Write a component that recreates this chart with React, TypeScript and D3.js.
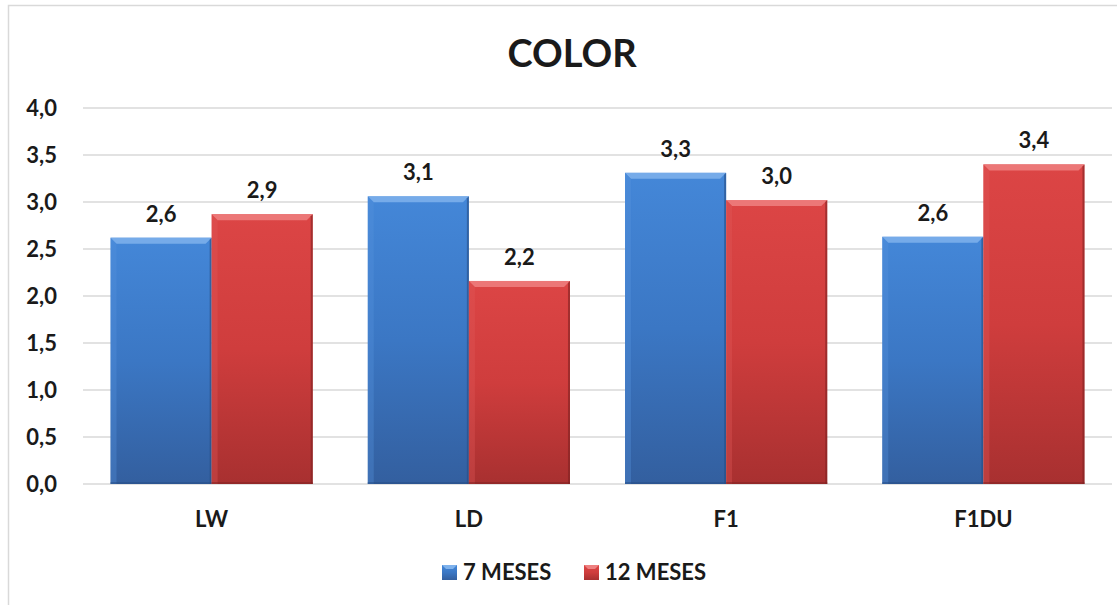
import * as d3 from "d3";
import { useEffect, useRef } from "react";

const categories = ["LW", "LD", "F1", "F1DU"];
const series = [
  { name: "7 MESES", key: "m7" },
  { name: "12 MESES", key: "m12" },
];
const values7 = [2.62, 3.06, 3.31, 2.63];
const values12 = [2.87, 2.16, 3.02, 3.4];
const yTicks = [0, 0.5, 1, 1.5, 2, 2.5, 3, 3.5, 4];

const palette: Record<string, { top: string; mid: string; bot: string; bevel: string; side: string; dark: string }> = {
  m7: { top: "#4487d8", mid: "#3b77c4", bot: "#335f9f", bevel: "#7fb2ec", side: "#5592dc", dark: "#264c84" },
  m12: { top: "#dc4545", mid: "#cf3d3d", bot: "#a83030", bevel: "#ee8080", side: "#e05a5a", dark: "#7e2222" },
};

export default function App() {
  const svgRef = useRef<SVGSVGElement>(null);
  const width = 1117;
  const height = 605;
  const margin = { top: 108, right: 5, bottom: 121, left: 83 };

  useEffect(() => {
    const svg = d3.select(svgRef.current);
    svg.selectAll("*").remove();
    const font = "Lato, 'Open Sans', sans-serif";

    const defs = svg.append("defs");
    Object.entries(palette).forEach(([k, c]) => {
      const g = defs.append("linearGradient").attr("id", `g-${k}`).attr("x1", 0).attr("y1", 0).attr("x2", 0).attr("y2", 1);
      g.append("stop").attr("offset", "0%").attr("stop-color", c.top);
      g.append("stop").attr("offset", "50%").attr("stop-color", c.mid);
      g.append("stop").attr("offset", "100%").attr("stop-color", c.bot);
    });

    svg.append("rect").attr("width", width).attr("height", height).attr("fill", "#fff");
    svg
      .append("rect")
      .attr("x", 8.5)
      .attr("y", 5.5)
      .attr("width", 1130)
      .attr("height", 640)
      .attr("fill", "none")
      .attr("stroke", "#d9d9d9")
      .attr("stroke-width", 1.5);

    const innerW = width - margin.left - margin.right;
    const x0 = d3.scaleBand().domain(categories).range([margin.left, margin.left + innerW]).paddingInner(0.2139).paddingOuter(0.107);
    const x1 = d3.scaleBand().domain(series.map((s) => s.key)).range([0, x0.bandwidth()]);
    const y = d3.scaleLinear().domain([0, 4]).range([height - margin.bottom, margin.top]);

    // gridlines
    svg
      .append("g")
      .selectAll("line")
      .data(yTicks)
      .join("line")
      .attr("x1", margin.left)
      .attr("x2", width - margin.right)
      .attr("y1", (d) => y(d))
      .attr("y2", (d) => y(d))
      .attr("stroke", "#d9d9d9")
      .attr("stroke-width", 1.5);

    // y labels
    svg
      .append("g")
      .selectAll("text")
      .data(yTicks)
      .join("text")
      .attr("x", 57)
      .attr("y", (d) => y(d))
      .attr("dy", "0.36em")
      .attr("text-anchor", "end")
      .attr("font-family", font)
      .attr("font-weight", "bold")
      .attr("font-size", 22)
      .attr("fill", "#1a1a1a")
      .text((d) => d3.format(".1f")(d).replace(".", ","));

    const rows = categories.map((c, i) => ({ cat: c, m7: values7[i], m12: values12[i] }));
    const b = 6;

    rows.forEach((r) => {
      series.forEach((s) => {
        const v = (r as any)[s.key] as number;
        const c = palette[s.key];
        const xa = (x0(r.cat) as number) + (x1(s.key) as number);
        const xb = xa + x1.bandwidth();
        const ya = y(v);
        const yb = y(0);
        const g = svg.append("g");
        g.append("rect").attr("x", xa).attr("y", ya).attr("width", xb - xa).attr("height", yb - ya).attr("fill", `url(#g-${s.key})`);
        g.append("polygon")
          .attr("points", `${xa},${ya} ${xb},${ya} ${xb - b},${ya + b} ${xa + b},${ya + b}`)
          .attr("fill", c.bevel)
          .attr("opacity", 0.85);
        g.append("polygon")
          .attr("points", `${xa},${ya} ${xa + b},${ya + b} ${xa + b},${yb} ${xa},${yb}`)
          .attr("fill", c.side)
          .attr("opacity", 0.35);
        g.append("polygon")
          .attr("points", `${xb},${ya} ${xb - 2},${ya + 2} ${xb - 2},${yb} ${xb},${yb}`)
          .attr("fill", c.dark)
          .attr("opacity", 0.6);
        g.append("rect").attr("x", xa).attr("y", yb - 2).attr("width", xb - xa).attr("height", 2).attr("fill", c.dark).attr("opacity", 0.5);

        svg
          .append("text")
          .attr("x", (xa + xb) / 2)
          .attr("y", ya - 16)
          .attr("text-anchor", "middle")
          .attr("font-family", font)
          .attr("font-weight", "bold")
          .attr("font-size", 22)
          .attr("fill", "#1a1a1a")
          .text(d3.format(".1f")(v).replace(".", ","));
      });
    });

    // category labels
    svg
      .append("g")
      .selectAll("text")
      .data(categories)
      .join("text")
      .attr("x", (d) => (x0(d) as number) + x0.bandwidth() / 2)
      .attr("y", 527)
      .attr("text-anchor", "middle")
      .attr("font-family", font)
      .attr("font-weight", "bold")
      .attr("font-size", 22)
      .attr("fill", "#1a1a1a")
      .text((d) => d);

    // title
    svg
      .append("text")
      .attr("x", 572)
      .attr("y", 67)
      .attr("text-anchor", "middle")
      .attr("font-family", font)
      .attr("font-weight", "bold")
      .attr("font-size", 38)
      .attr("fill", "#1a1a1a")
      .text("COLOR");

    // legend
    const legendX = [442, 584];
    series.forEach((s, i) => {
      const c = palette[s.key];
      const lx = legendX[i];
      const ly = 565;
      svg.append("rect").attr("x", lx).attr("y", ly).attr("width", 15).attr("height", 15).attr("fill", `url(#g-${s.key})`);
      svg
        .append("polygon")
        .attr("points", `${lx},${ly} ${lx + 15},${ly} ${lx + 11},${ly + 4} ${lx + 4},${ly + 4}`)
        .attr("fill", c.bevel);
      svg
        .append("text")
        .attr("x", lx + 21)
        .attr("y", 580)
        .attr("font-family", font)
        .attr("font-weight", "bold")
        .attr("font-size", 22)
        .attr("fill", "#1a1a1a")
        .text(s.name);
    });
  }, []);

  return (
    <svg
      ref={svgRef}
      width={width}
      height={height}
      style={{ position: "absolute", top: 0, left: 0, display: "block" }}
    ></svg>
  );
}
